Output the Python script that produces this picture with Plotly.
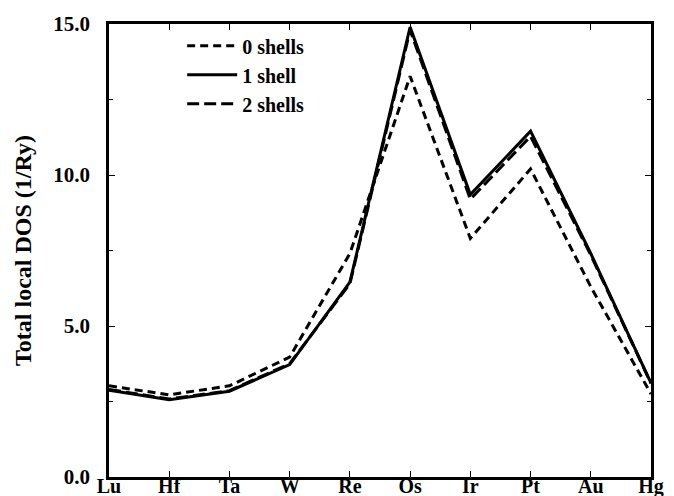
import plotly.graph_objects as go

elements = ["Lu", "Hf", "Ta", "W", "Re", "Os", "Ir", "Pt", "Au", "Hg"]
dos_0_shells = [3.02, 2.72, 3.02, 3.97, 7.4, 13.27, 7.9, 10.2, 6.3, 2.75]
dos_1_shell = [2.87, 2.56, 2.84, 3.72, 6.45, 14.9, 9.35, 11.45, 7.4, 3.11]
dos_2_shells = [2.9, 2.58, 2.86, 3.75, 6.4, 14.8, 9.2, 11.28, 7.35, 3.1]
y_ticks = [0.0, 5.0, 10.0, 15.0]

FONT = "Liberation Serif"
x = list(range(len(elements)))

fig = go.Figure()
fig.add_trace(go.Scatter(x=x, y=dos_0_shells, mode="lines", name="0 shells",
                         line=dict(color="black", width=3, dash="8px,5px")))
fig.add_trace(go.Scatter(x=x, y=dos_1_shell, mode="lines", name="1 shell",
                         line=dict(color="black", width=3)))
fig.add_trace(go.Scatter(x=x, y=dos_2_shells, mode="lines", name="2 shells",
                         line=dict(color="black", width=3, dash="12px,5px")))

fig.update_layout(
    template="none",
    width=674, height=496,
    margin=dict(l=101, r=31, t=16, b=27, autoexpand=False),
    paper_bgcolor="white", plot_bgcolor="white",
    font=dict(family=FONT, color="black", size=21, weight=700),
    legend=dict(x=0.135, y=0.995, xanchor="left", yanchor="top",
                bgcolor="rgba(0,0,0,0)", itemwidth=50, tracegroupgap=0,
                font=dict(family=FONT, size=20, weight=700)),
    xaxis=dict(range=[0, 9], tickvals=x, ticktext=elements, automargin=False,
               ticks="inside", ticklen=6, tickwidth=1, tickcolor="black",
               showline=True, linewidth=2.5, linecolor="black", mirror="ticks",
               showgrid=False, zeroline=False, ticklabelstandoff=-11,
               tickfont=dict(family=FONT, size=20, weight=700)),
    yaxis=dict(range=[0, 15], tickvals=y_ticks, tickformat=".1f", automargin=False,
               ticks="inside", ticklen=6, tickwidth=1, tickcolor="black",
               minor=dict(dtick=2.5, ticks="inside", ticklen=4, tickwidth=1, tickcolor="black"),
               showline=True, linewidth=2.5, linecolor="black", mirror="ticks",
               showgrid=False, zeroline=False, ticklabelstandoff=12,
               tickfont=dict(family=FONT, size=21, weight=700),
               title=dict(text="Total local DOS (1/Ry)", standoff=15,
                          font=dict(family=FONT, size=24, weight=700))),
)

fig.write_html("out.html")
